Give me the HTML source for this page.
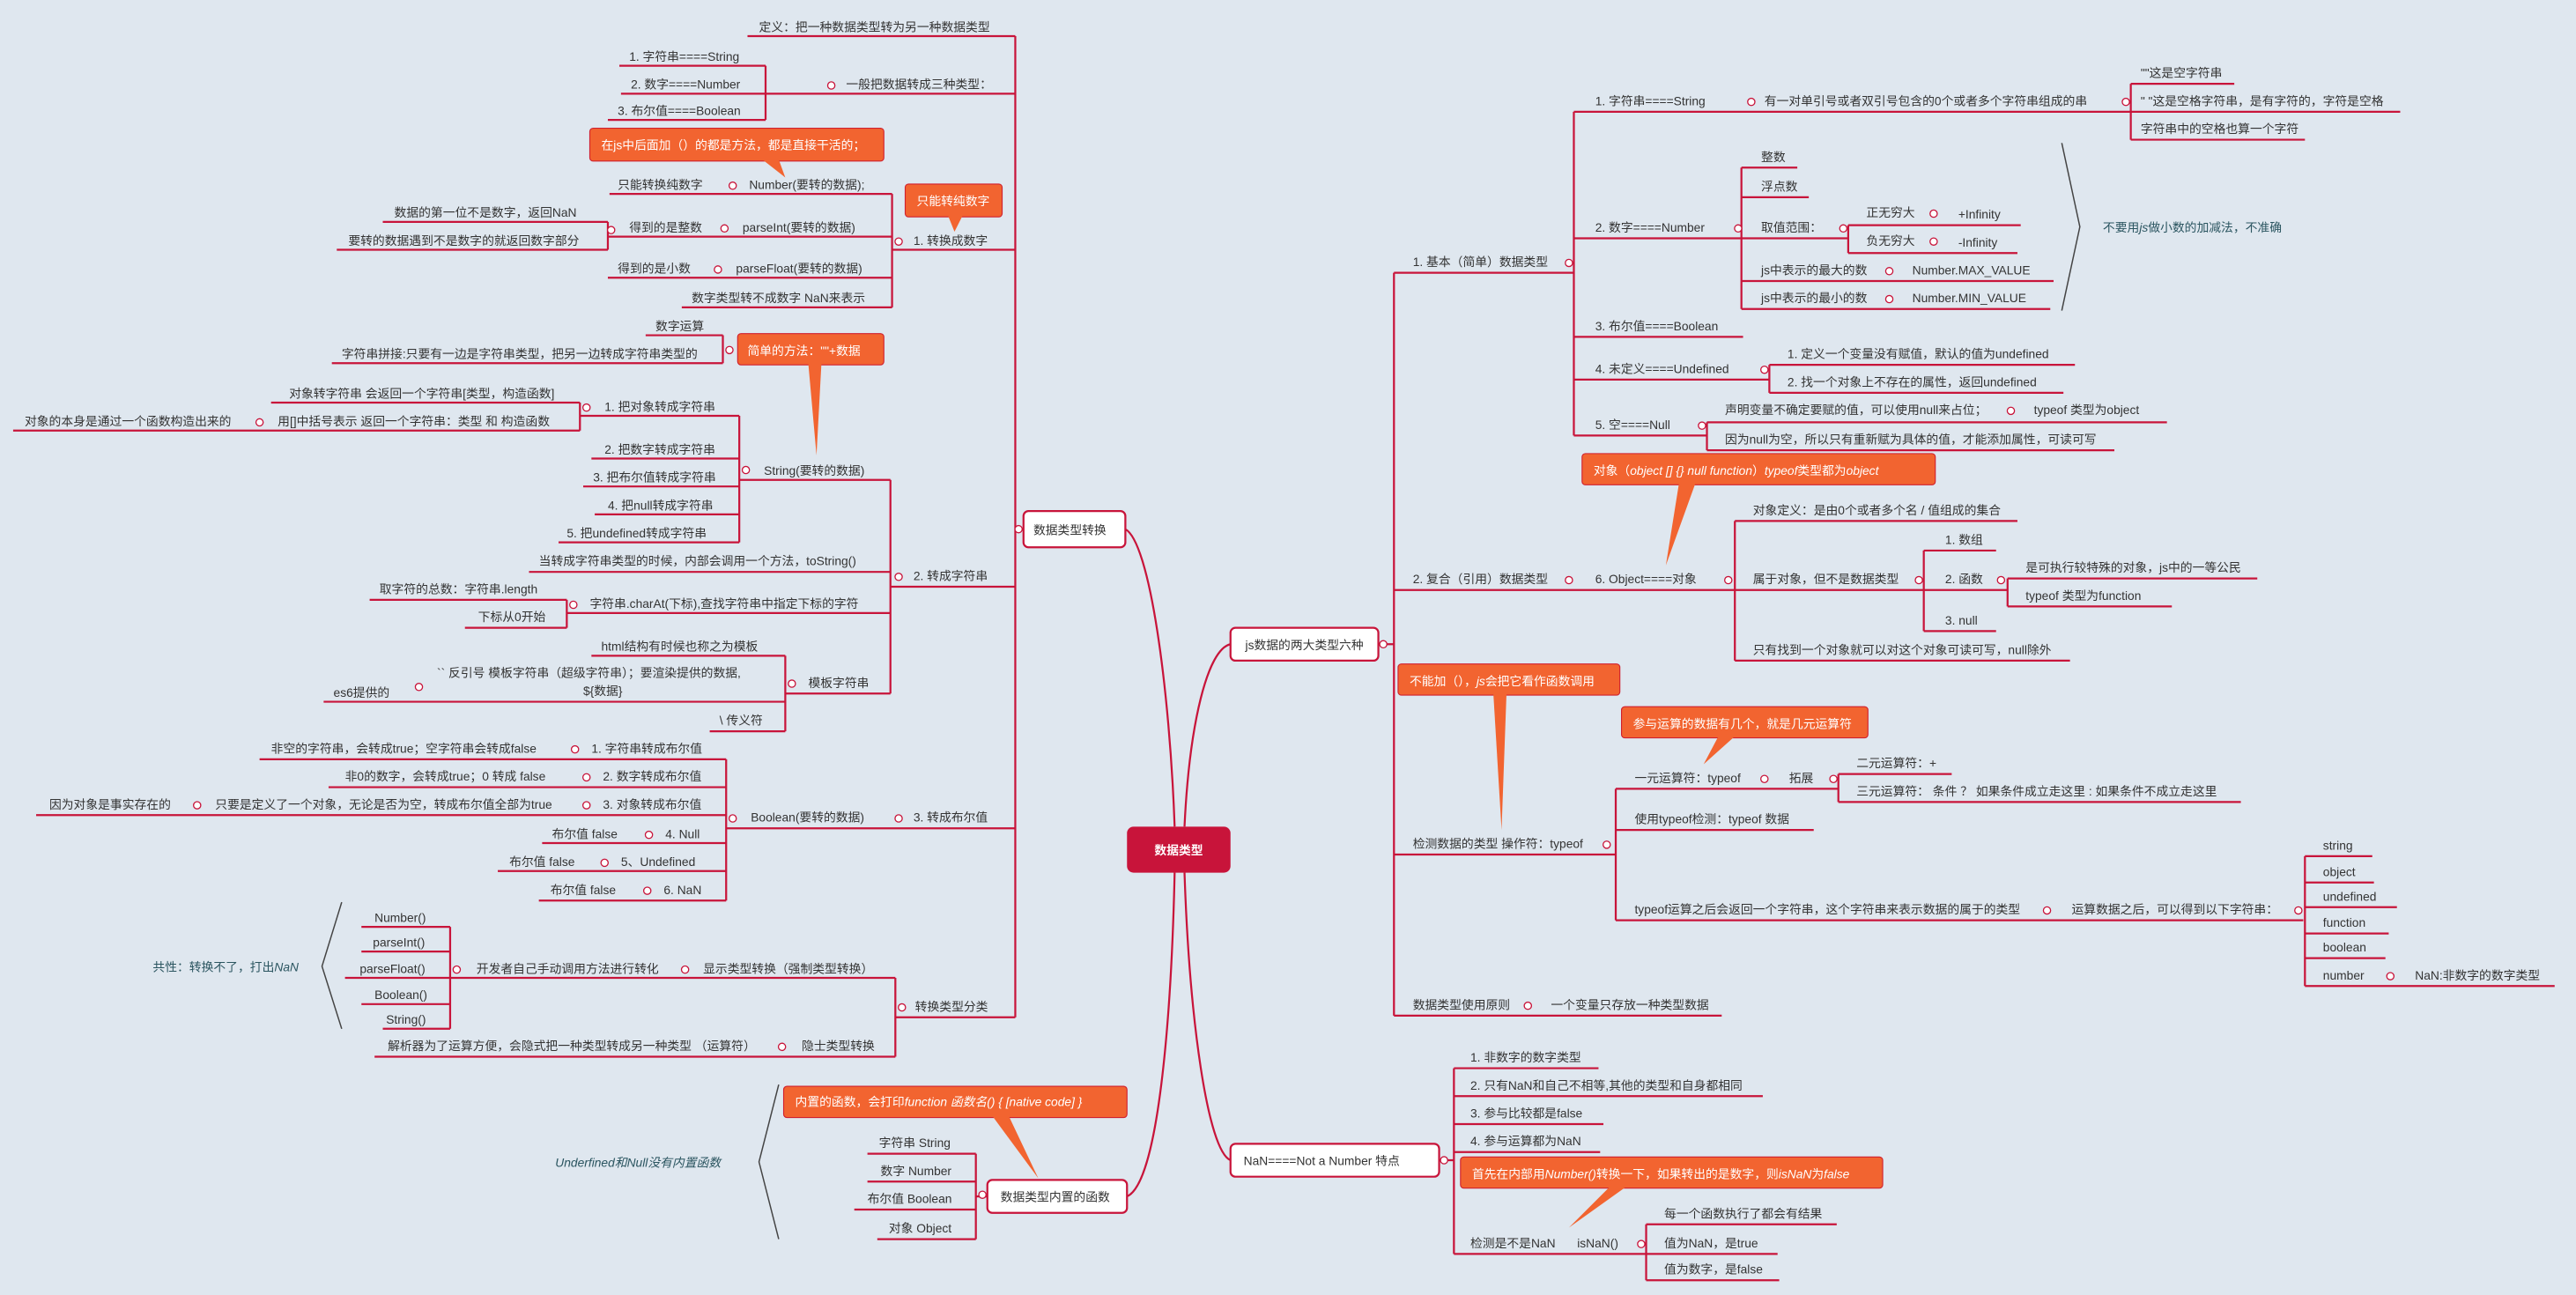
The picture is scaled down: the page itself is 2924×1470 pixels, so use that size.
<!DOCTYPE html>
<html><head><meta charset="utf-8"><style>
html,body{margin:0;padding:0;background:#dfe7ef;}
svg{display:block}
text{font-family:"Liberation Sans","Noto Sans CJK SC",sans-serif;font-size:7.4px;fill:#333;}
.w{fill:#fff}
.t{fill:#2b5560}
.l{stroke:#c8143a;stroke-width:1.2;fill:none}
.c{stroke:#c8143a;stroke-width:0.7;fill:#fff}
.co{fill:#f26430;stroke:#d0202e;stroke-width:0.6}
.b{fill:#fff;stroke:#c8143a;stroke-width:1.2}
</style></head><body>
<svg width="2924" height="1470" viewBox="0 0 1568 788" preserveAspectRatio="none" xmlns="http://www.w3.org/2000/svg">
<rect width="1568" height="788" fill="#dfe7ef"/>
<!-- root curves -->
<path class="l" d="M685 322 C700 330 712 420 715 503"/>
<path class="l" d="M749 392 C735 395 724 440 721 503"/>
<path class="l" d="M715 531 C713 620 705 720 686 728"/>
<path class="l" d="M721 531 C724 620 735 700 749 706"/>
<rect x="686" y="503" width="63" height="28" rx="4" fill="#c8143a"/>
<text x="717.5" y="520" class="w" text-anchor="middle" style="font-weight:bold">数据类型</text>

<!-- LEFT -->
<rect class="b" x="623" y="311" width="62" height="22" rx="3"/>
<text x="629" y="325">数据类型转换</text>
<path class="l" d="M618 22 V619 M618 322 H623"/>
<circle class="c" cx="620" cy="322" r="2.2"/>
<path class="l" d="M455 22 H618"/><text x="462" y="19">定义：把一种数据类型转为另一种数据类型</text>
<path class="l" d="M466 57 H618 M466 40 V73 M377 40 H466 M378 57 H466 M370 73 H466"/>
<text x="515" y="54">一般把数据转成三种类型：</text><circle class="c" cx="506" cy="52" r="2.2"/>
<text x="383" y="37">1. 字符串====String</text><text x="384" y="54">2. 数字====Number</text><text x="376" y="70">3. 布尔值====Boolean</text>

<rect class="co" x="359" y="78" width="179" height="20" rx="2"/><polygon points="464,97 474,97 478,108" fill="#f26430"/>
<text x="366" y="91" class="w">在js中后面加（）的都是方法，都是直接干活的；</text>
<path class="l" d="M543 118 V187 M543 152 H618 M371 118 H543 M370 144 H543 M370 135 V152 M233 135 H370 M205 152 H370 M370 169 H543 M415 187 H543"/>
<text x="556" y="149">1. 转换成数字</text><circle class="c" cx="547" cy="147" r="2.2"/>
<text x="376" y="115">只能转换纯数字</text><circle class="c" cx="446" cy="113" r="2.2"/><text x="456" y="115">Number(要转的数据);</text>
<text x="240" y="132">数据的第一位不是数字，返回NaN</text><circle class="c" cx="372" cy="140" r="2.2"/>
<text x="383" y="141">得到的是整数</text><circle class="c" cx="441" cy="139" r="2.2"/><text x="452" y="141">parseInt(要转的数据)</text>
<text x="212" y="149">要转的数据遇到不是数字的就返回数字部分</text>
<text x="376" y="166">得到的是小数</text><circle class="c" cx="437" cy="164" r="2.2"/><text x="448" y="166">parseFloat(要转的数据)</text>
<text x="421" y="184">数字类型转不成数字 NaN来表示</text>
<rect class="co" x="551" y="112" width="59" height="20" rx="2"/><polygon points="577,131 586,131 581,141" fill="#f26430"/>
<text x="558" y="125" class="w">只能转纯数字</text>

<path class="l" d="M440 204 V221 M393 204 H440 M202 221 H440"/>
<text x="399" y="201">数字运算</text><text x="208" y="218">字符串拼接:只要有一边是字符串类型，把另一边转成字符串类型的</text><circle class="c" cx="444" cy="213" r="2.2"/>
<rect class="co" x="449" y="203" width="89" height="19" rx="2"/><polygon points="492,221 500,221 497,277" fill="#f26430"/>
<text x="455" y="216" class="w">简单的方法：""+数据</text>

<path class="l" d="M542 292 V422 M542 357 H618 M450 292 H542 M450 253 V330 M353 245 V262 M165 245 H353 M8 262 H353 M353 253 H450 M360 279 H450 M355 296 H450 M362 313 H450 M340 330 H450"/>
<text x="556" y="353">2. 转成字符串</text><circle class="c" cx="547" cy="351" r="2.2"/>
<text x="465" y="289">String(要转的数据)</text><circle class="c" cx="454" cy="286" r="2.2"/>
<text x="176" y="242">对象转字符串 会返回一个字符串[类型，构造函数]</text>
<text x="368" y="250">1. 把对象转成字符串</text><circle class="c" cx="357" cy="248" r="2.2"/>
<text x="15" y="259">对象的本身是通过一个函数构造出来的</text><circle class="c" cx="158" cy="257" r="2.2"/><text x="169" y="259">用[]中括号表示  返回一个字符串：类型 和 构造函数</text>
<text x="368" y="276">2. 把数字转成字符串</text><text x="361" y="293">3. 把布尔值转成字符串</text><text x="370" y="310">4. 把null转成字符串</text><text x="345" y="327">5. 把undefined转成字符串</text>
<path class="l" d="M322 348 H542 M345 373 H542 M345 365 V382 M225 365 H345 M283 382 H345 M478 422 H542 M478 399 V445 M360 399 H478 M197 427 H478 M432 445 H478"/>
<text x="328" y="344">当转成字符串类型的时候，内部会调用一个方法，toString()</text>
<text x="359" y="370">字符串.charAt(下标),查找字符串中指定下标的字符</text><circle class="c" cx="349" cy="368" r="2.2"/>
<text x="231" y="361">取字符的总数：字符串.length</text><text x="291" y="378">下标从0开始</text>
<text x="492" y="418">模板字符串</text><circle class="c" cx="482" cy="416" r="2.2"/>
<text x="366" y="396">html结构有时候也称之为模板</text>
<text x="266" y="412">`` 反引号 模板字符串（超级字符串）；要渲染提供的数据,</text><text x="355" y="423">${数据}</text>
<text x="203" y="424">es6提供的</text><circle class="c" cx="255" cy="418" r="2.2"/>
<text x="438" y="441">\ 传义符</text>

<path class="l" d="M543 504 H618 M442 462 V548 M158 462 H442 M200 479 H442 M22 496 H442 M442 504 H543 M330 513 H442 M303 530 H442 M328 548 H442"/>
<text x="556" y="500">3. 转成布尔值</text><circle class="c" cx="547" cy="498" r="2.2"/>
<text x="457" y="500">Boolean(要转的数据)</text><circle class="c" cx="446" cy="498" r="2.2"/>
<text x="165" y="458">非空的字符串，会转成true；空字符串会转成false</text><circle class="c" cx="350" cy="456" r="2.2"/><text x="360" y="458">1. 字符串转成布尔值</text>
<text x="210" y="475">非0的数字，会转成true；0 转成 false</text><circle class="c" cx="357" cy="473" r="2.2"/><text x="367" y="475">2. 数字转成布尔值</text>
<text x="30" y="492">因为对象是事实存在的</text><circle class="c" cx="120" cy="490" r="2.2"/><text x="131" y="492">只要是定义了一个对象，无论是否为空，转成布尔值全部为true</text><circle class="c" cx="357" cy="490" r="2.2"/><text x="367" y="492">3. 对象转成布尔值</text>
<text x="336" y="510">布尔值 false</text><circle class="c" cx="395" cy="508" r="2.2"/><text x="405" y="510">4. Null</text>
<text x="310" y="527">布尔值 false</text><circle class="c" cx="368" cy="525" r="2.2"/><text x="378" y="527">5、Undefined</text>
<text x="335" y="544">布尔值 false</text><circle class="c" cx="394" cy="542" r="2.2"/><text x="404" y="544">6. NaN</text>

<path class="l" d="M545 595 V643 M545 619 H618 M274 564 V626 M220 564 H274 M220 579 H274 M210 595 H545 M220 611 H274 M233 626 H274 M228 643 H545"/>
<text x="557" y="615">转换类型分类</text><circle class="c" cx="549" cy="613" r="2.2"/>
<text x="228" y="561">Number()</text><text x="227" y="576">parseInt()</text><text x="219" y="592">parseFloat()</text><text x="228" y="608">Boolean()</text><text x="235" y="623">String()</text>
<circle class="c" cx="278" cy="590" r="2.2"/><text x="290" y="592">开发者自己手动调用方法进行转化</text><circle class="c" cx="417" cy="590" r="2.2"/><text x="428" y="592">显示类型转换（强制类型转换）</text>
<text x="236" y="639">解析器为了运算方便，会隐式把一种类型转成另一种类型 （运算符）</text><circle class="c" cx="476" cy="637" r="2.2"/><text x="488" y="639">隐士类型转换</text>
<path d="M208 549 L196 588 L208 626" stroke="#444" stroke-width="0.8" fill="none"/>
<text x="93" y="591" class="t">共性：转换不了，打出<tspan font-style="italic">NaN</tspan></text>

<!-- built-in -->
<path class="l" d="M594 702 V754 M528 702 H594 M528 719 H594 M520 736 H594 M534 754 H594 M594 728 H601"/>
<rect class="b" x="601" y="718" width="85" height="20" rx="3"/><text x="609" y="731">数据类型内置的函数</text><circle class="c" cx="598" cy="727" r="2.2"/>
<text x="535" y="698">字符串 String</text><text x="536" y="715">数字 Number</text><text x="528" y="732">布尔值 Boolean</text><text x="541" y="750">对象 Object</text>
<rect class="co" x="477" y="661" width="209" height="19" rx="2"/><polygon points="604,679 614,679 632,717" fill="#f26430"/>
<text x="484" y="673" class="w">内置的函数，会打印<tspan font-style="italic">function 函数名() { [native code] }</tspan></text>
<path d="M474 660 L462 707 L474 754" stroke="#444" stroke-width="0.8" fill="none"/>
<text x="338" y="710" class="t" font-style="italic">Underfined和Null没有内置函数</text>

<!-- RIGHT -->
<rect class="b" x="749" y="382" width="90" height="20" rx="3"/><text x="758" y="395">js数据的两大类型六种</text>
<path class="l" d="M839 392 H848.5 M848.5 166 V618"/><circle class="c" cx="842" cy="392" r="2.2"/>
<path class="l" d="M848.5 166 H958 M958 68 V265 M958 68 H1297 M1297 51 V85 M1297 51 H1360 M1297 68 H1461 M1297 85 H1403"/>
<text x="860" y="162">1. 基本（简单）数据类型</text><circle class="c" cx="955" cy="160" r="2.2"/>
<text x="971" y="64">1. 字符串====String</text><circle class="c" cx="1066" cy="62" r="2.2"/><text x="1074" y="64">有一对单引号或者双引号包含的0个或者多个字符串组成的串</text><circle class="c" cx="1294" cy="62" r="2.2"/>
<text x="1303" y="47">""这是空字符串</text><text x="1303" y="64">" "这是空格字符串，是有字符的，字符是空格</text><text x="1303" y="81">字符串中的空格也算一个字符</text>
<path class="l" d="M958 145 H1060 M1060 102 V188 M1060 102 H1094 M1060 120 H1101 M1060 145 H1125 M1125 137 V154 M1125 137 H1230 M1125 154 H1228 M1060 171 H1250 M1060 188 H1248"/>
<text x="971" y="141">2. 数字====Number</text><circle class="c" cx="1058" cy="139" r="2.2"/>
<text x="1072" y="98">整数</text><text x="1072" y="116">浮点数</text><text x="1072" y="141">取值范围：</text><circle class="c" cx="1122" cy="139" r="2.2"/>
<text x="1136" y="132">正无穷大</text><circle class="c" cx="1177" cy="130" r="2.2"/><text x="1192" y="133">+Infinity</text>
<text x="1136" y="149">负无穷大</text><circle class="c" cx="1177" cy="147" r="2.2"/><text x="1192" y="150">-Infinity</text>
<text x="1072" y="167">js中表示的最大的数</text><circle class="c" cx="1150" cy="165" r="2.2"/><text x="1164" y="167">Number.MAX_VALUE</text>
<text x="1072" y="184">js中表示的最小的数</text><circle class="c" cx="1150" cy="182" r="2.2"/><text x="1164" y="184">Number.MIN_VALUE</text>
<path d="M1255 87 L1266 138 L1255 189" stroke="#444" stroke-width="0.8" fill="none"/>
<text x="1280" y="141" class="t">不要用<tspan font-style="italic">js</tspan>做小数的加减法，不准确</text>
<path class="l" d="M958 205 H1061 M958 231 H1077 M1077 222 V239 M1077 222 H1263 M1077 239 H1256 M958 265 H1039 M1039 257 V274 M1039 257 H1319 M1039 274 H1287"/>
<text x="971" y="201">3. 布尔值====Boolean</text>
<text x="971" y="227">4. 未定义====Undefined</text><circle class="c" cx="1074" cy="225" r="2.2"/>
<text x="1088" y="218">1. 定义一个变量没有赋值，默认的值为undefined</text><text x="1088" y="235">2. 找一个对象上不存在的属性，返回undefined</text>
<text x="971" y="261">5. 空====Null</text><circle class="c" cx="1036" cy="259" r="2.2"/>
<text x="1050" y="252">声明变量不确定要赋的值，可以使用null来占位；</text><circle class="c" cx="1224" cy="250" r="2.2"/><text x="1238" y="252">typeof 类型为object</text>
<text x="1050" y="270">因为null为空，所以只有重新赋为具体的值，才能添加属性，可读可写</text>

<rect class="co" x="963" y="276" width="215" height="19" rx="2"/><polygon points="1022,294 1032,294 1014,344" fill="#f26430"/>
<text x="970" y="289" class="w">对象（<tspan font-style="italic">object [] {} null function</tspan>）<tspan font-style="italic">typeof</tspan>类型都为<tspan font-style="italic">object</tspan></text>
<path class="l" d="M848.5 359 H1056 M1056 317 V402 M1056 317 H1228 M1056 359 H1171 M1171 335 V384 M1171 335 H1215 M1171 359 H1222 M1222 352 V369 M1222 352 H1374 M1222 369 H1322 M1171 384 H1215 M1056 402 H1260"/>
<text x="860" y="355">2. 复合（引用）数据类型</text><circle class="c" cx="955" cy="353" r="2.2"/>
<text x="971" y="355">6. Object====对象</text><circle class="c" cx="1052" cy="353" r="2.2"/>
<text x="1067" y="313">对象定义：是由0个或者多个名 / 值组成的集合</text>
<text x="1067" y="355">属于对象，但不是数据类型</text><circle class="c" cx="1168" cy="353" r="2.2"/>
<text x="1184" y="331">1. 数组</text><text x="1184" y="355">2. 函数</text><circle class="c" cx="1218" cy="353" r="2.2"/>
<text x="1233" y="348">是可执行较特殊的对象，js中的一等公民</text><text x="1233" y="365">typeof 类型为function</text>
<text x="1184" y="380">3. null</text>
<text x="1067" y="398">只有找到一个对象就可以对这个对象可读可写，null除外</text>

<rect class="co" x="851" y="404" width="135" height="19" rx="2"/><polygon points="909,422 917,422 914,505" fill="#f26430"/>
<text x="858" y="417" class="w">不能加（），<tspan font-style="italic">js</tspan>会把它看作函数调用</text>
<rect class="co" x="987" y="430" width="150" height="19" rx="2"/><polygon points="1046,448 1056,448 1037,465" fill="#f26430"/>
<text x="994" y="443" class="w">参与运算的数据有几个，就是几元运算符</text>
<path class="l" d="M848.5 520 H983.5 M983.5 480 V560 M983.5 480 H1119 M1119 471 V488 M1119 471 H1188 M1119 488 H1364 M983.5 505 H1104 M983.5 560 H1402 M1403 521 V600 M1403 521 H1444 M1403 537 H1445 M1403 552 H1459 M1403 568 H1454 M1403 583 H1452 M1403 600 H1555"/>
<text x="860" y="516">检测数据的类型 操作符：typeof</text><circle class="c" cx="978" cy="514" r="2.2"/>
<text x="995" y="476">一元运算符：typeof</text><circle class="c" cx="1074" cy="474" r="2.2"/><text x="1089" y="476">拓展</text><circle class="c" cx="1116" cy="474" r="2.2"/>
<text x="1130" y="467">二元运算符：+</text><text x="1130" y="484">三元运算符：  条件 ？ 如果条件成立走这里 : 如果条件不成立走这里</text>
<text x="995" y="501">使用typeof检测：typeof 数据</text>
<text x="995" y="556">typeof运算之后会返回一个字符串，这个字符串来表示数据的属于的类型</text><circle class="c" cx="1246" cy="554" r="2.2"/><text x="1261" y="556">运算数据之后，可以得到以下字符串：</text><circle class="c" cx="1399" cy="554" r="2.2"/>
<text x="1414" y="517">string</text><text x="1414" y="533">object</text><text x="1414" y="548">undefined</text><text x="1414" y="564">function</text><text x="1414" y="579">boolean</text>
<text x="1414" y="596">number</text><circle class="c" cx="1455" cy="594" r="2.2"/><text x="1470" y="596">NaN:非数字的数字类型</text>
<path class="l" d="M848.5 618 H1048"/>
<text x="860" y="614">数据类型使用原则</text><circle class="c" cx="930" cy="612" r="2.2"/><text x="944" y="614">一个变量只存放一种类型数据</text>

<rect class="b" x="749" y="696" width="127" height="20" rx="3"/><text x="757" y="709">NaN====Not a Number   特点</text>
<path class="l" d="M876 706 H885 M885 650 V763 M885 650 H973 M885 667 H1073 M885 684 H976 M885 701 H974 M885 763 H1002 M1002 745 V779 M1002 745 H1118 M1002 763 H1082 M1002 779 H1083"/>
<circle class="c" cx="879" cy="706" r="2.2"/>
<text x="895" y="646">1. 非数字的数字类型</text><text x="895" y="663">2. 只有NaN和自己不相等,其他的类型和自身都相同</text><text x="895" y="680">3. 参与比较都是false</text><text x="895" y="697">4. 参与运算都为NaN</text>
<rect class="co" x="889" y="704" width="257" height="19" rx="2"/><polygon points="980,722 990,722 955,747" fill="#f26430"/>
<text x="896" y="717" class="w">首先在内部用<tspan font-style="italic">Number()</tspan>转换一下，如果转出的是数字，则<tspan font-style="italic">isNaN</tspan>为<tspan font-style="italic">false</tspan></text>
<text x="895" y="759">检测是不是NaN</text><text x="960" y="759">isNaN()</text><circle class="c" cx="999" cy="757" r="2.2"/>
<text x="1013" y="741">每一个函数执行了都会有结果</text><text x="1013" y="759">值为NaN，是true</text><text x="1013" y="775">值为数字，是false</text>
</svg>
</body></html>
